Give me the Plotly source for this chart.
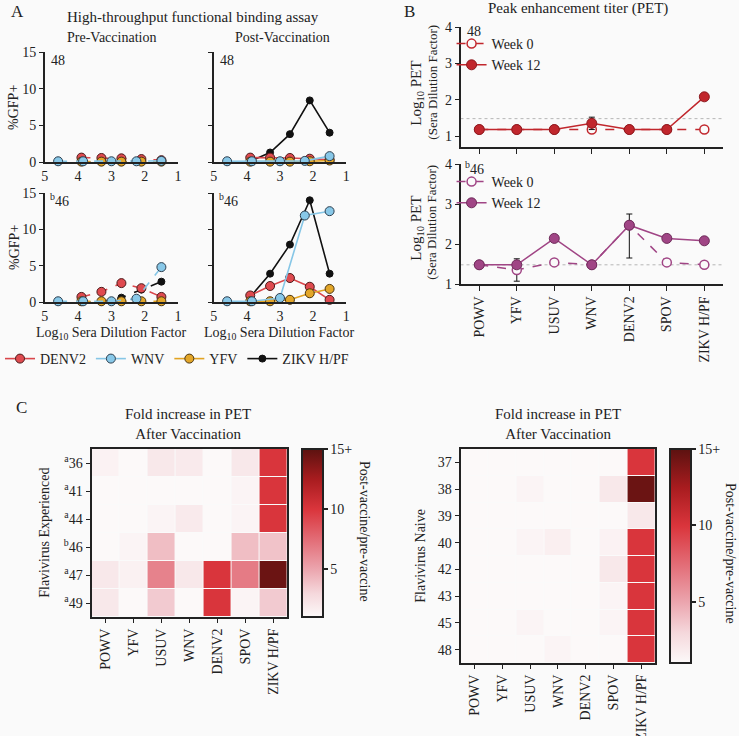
import plotly.graph_objects as go

W, H = 739, 736


def px(x):
    return x / W


def py(y):
    return 1 - y / H


FONT = "Liberation Serif, 'Times New Roman', 'DejaVu Serif', serif"
INK = "#222222"
BG = "#fafafa"

# ---- Panel A: %GFP+ vs log10 sera dilution ----
dil_std = [3.9, 3.3, 2.7, 2.1, 1.5]       # DENV2, YFV, ZIKV
dil_wnv = [4.6, 3.85, 3.0, 2.25, 1.5]     # WNV

pre48_denv2 = [0.6, 0.55, 0.5, 0.4, 0.25]
pre48_wnv = [0.1, 0.1, 0.1, 0.1, 0.15]
pre48_yfv = [0.05, 0.05, 0.05, 0.05, 0.05]
pre48_zikv = [0.0, 0.0, 0.0, 0.05, 0.05]

post48_denv2 = [0.6, 0.6, 0.55, 0.45, 0.3]
post48_wnv = [0.1, 0.1, 0.1, 0.15, 0.8]
post48_yfv = [0.05, 0.05, 0.05, 0.1, 0.2]
post48_zikv = [0.1, 1.3, 3.8, 8.4, 4.0]

pre46_denv2 = [0.7, 1.4, 2.6, 1.9, 0.7]
pre46_wnv = [0.1, 0.1, 0.1, 0.45, 4.8]
pre46_yfv = [0.1, 0.1, 0.1, 0.1, 0.1]
pre46_zikv = [0.0, 0.05, 0.6, 1.7, 2.8]

post46_denv2 = [0.9, 2.2, 3.3, 2.1, 0.3]
post46_wnv = [0.1, 0.1, 0.55, 11.9, 12.5]
post46_yfv = [0.1, 0.1, 0.3, 1.2, 1.8]
post46_zikv = [0.7, 3.9, 7.9, 14.0, 3.9]

# ---- Panel B: peak enhancement titer ----
viruses = ["POWV", "YFV", "USUV", "WNV", "DENV2", "SPOV", "ZIKV H/PF"]
lod = 1.48

pet48_wk0 = [1.18, 1.18, 1.18, 1.18, 1.18, 1.18, 1.18]
pet48_wk12 = [1.18, 1.18, 1.18, 1.35, 1.18, 1.18, 2.08]
pet48_wk12_err = [0, 0, 0, 0.17, 0, 0, 0]

pet46_wk0 = [1.48, 1.35, 1.54, 1.48, 2.47, 1.54, 1.48]
pet46_wk0_err = [0, 0.28, 0.06, 0, 0, 0.06, 0]
pet46_wk12 = [1.48, 1.48, 2.14, 1.48, 2.47, 2.14, 2.08]
pet46_wk12_up = [0, 0, 0.08, 0, 0.28, 0.08, 0]
pet46_wk12_dn = [0, 0, 0.08, 0, 0.82, 0.08, 0]

# ---- Panel C: fold increase heatmaps ----
exp_donors = ["<sup>a</sup>36", "<sup>a</sup>41", "<sup>a</sup>44",
              "<sup>b</sup>46", "<sup>a</sup>47", "<sup>a</sup>49"]
fold_exp = [
    [1.4, 1.0, 2.0, 1.9, 1.0, 2.0, 10.0],
    [1.0, 1.0, 1.0, 1.0, 1.0, 1.3, 10.0],
    [1.0, 1.0, 1.3, 1.9, 1.0, 1.3, 10.0],
    [1.0, 1.3, 4.0, 1.0, 1.0, 4.0, 3.8],
    [2.0, 1.5, 6.5, 2.0, 10.0, 6.8, 14.5],
    [2.0, 1.0, 3.5, 1.0, 10.0, 1.3, 3.5],
]
naive_donors = ["37", "38", "39", "40", "42", "43", "45", "48"]
fold_naive = [
    [1.0, 1.0, 1.0, 1.0, 1.0, 1.0, 10.0],
    [1.0, 1.0, 1.3, 1.0, 1.0, 2.0, 14.5],
    [1.0, 1.0, 1.0, 1.0, 1.0, 1.0, 2.0],
    [1.0, 1.0, 1.3, 1.6, 1.0, 1.4, 10.0],
    [1.0, 1.0, 1.0, 1.0, 1.0, 2.0, 10.0],
    [1.0, 1.0, 1.0, 1.0, 1.0, 1.3, 10.0],
    [1.0, 1.0, 1.3, 1.0, 1.0, 1.3, 10.0],
    [1.0, 1.0, 1.0, 1.3, 1.0, 1.0, 10.0],
]

virus_style = {
    "DENV2": dict(line="#d9464b", fill="#df4a4f", edge="#4a1a1a", size=9, rank=1),
    "WNV": dict(line="#86c6e6", fill="#88c8e8", edge="#2c3e4e", size=9, rank=2),
    "YFV": dict(line="#e2a322", fill="#e3a628", edge="#4a3410", size=9, rank=3),
    "ZIKV H/PF": dict(line="#111111", fill="#111111", edge="#111111", size=7, rank=4),
}

fig = go.Figure()

panels = [
    ("", "y", True, dict(DENV2=pre48_denv2, WNV=pre48_wnv, YFV=pre48_yfv, ZIKV=pre48_zikv)),
    ("2", "y2", False, dict(DENV2=post48_denv2, WNV=post48_wnv, YFV=post48_yfv, ZIKV=post48_zikv)),
    ("3", "y3", True, dict(DENV2=pre46_denv2, WNV=pre46_wnv, YFV=pre46_yfv, ZIKV=pre46_zikv)),
    ("4", "y4", False, dict(DENV2=post46_denv2, WNV=post46_wnv, YFV=post46_yfv, ZIKV=post46_zikv)),
]
for idx, (suffix, yname, pre, vals) in enumerate(panels):
    dash = "dash" if pre else "solid"
    for key, name in [("ZIKV", "ZIKV H/PF"), ("DENV2", "DENV2"), ("YFV", "YFV"), ("WNV", "WNV")]:
        st = virus_style[name]
        xs = dil_wnv if key == "WNV" else dil_std
        fig.add_trace(go.Scatter(
            x=xs, y=vals[key], mode="lines+markers", name=name,
            xaxis="x" + suffix, yaxis=yname, cliponaxis=False,
            line=dict(color=st["line"], width=1.6, dash=dash),
            marker=dict(color=st["fill"], size=st["size"], line=dict(color=st["edge"], width=1)),
            showlegend=(idx == 3), legendrank=st["rank"], legend="legend",
        ))

# Panel B traces
red, red_dark = "#c1272d", "#8c1b20"
pur, pur_dark = "#a04585", "#6e2c5a"
err_style = dict(color="#111111", thickness=1, width=3)

fig.add_trace(go.Scatter(
    x=viruses, y=pet48_wk0, mode="lines+markers", name="Week 0", xaxis="x5", yaxis="y5",
    line=dict(color=red, width=1.5, dash="dash"), cliponaxis=False,
    marker=dict(color=BG, size=9, line=dict(color=red, width=1.5)), legend="legend2"))
fig.add_trace(go.Scatter(
    x=viruses, y=pet48_wk12, mode="lines+markers", name="Week 12", xaxis="x5", yaxis="y5",
    line=dict(color=red, width=1.5), cliponaxis=False,
    error_y=dict(type="data", array=pet48_wk12_err, **err_style),
    marker=dict(color=red, size=10, line=dict(color=red_dark, width=1)), legend="legend2"))

fig.add_trace(go.Scatter(
    x=viruses, y=pet46_wk0, mode="lines+markers", name="Week 0", xaxis="x6", yaxis="y6",
    line=dict(color=pur, width=1.5, dash="dash"), cliponaxis=False,
    error_y=dict(type="data", array=pet46_wk0_err, **err_style),
    marker=dict(color=BG, size=9, line=dict(color=pur, width=1.5)), legend="legend3"))
fig.add_trace(go.Scatter(
    x=viruses, y=pet46_wk12, mode="lines+markers", name="Week 12", xaxis="x6", yaxis="y6",
    line=dict(color=pur, width=1.5), cliponaxis=False,
    error_y=dict(type="data", array=pet46_wk12_up, arrayminus=pet46_wk12_dn, **err_style),
    marker=dict(color=pur, size=10, line=dict(color=pur_dark, width=1)), legend="legend3"))

# Panel C heatmaps
cscale = [[0.0, "#fcf9f9"], [0.14, "#f5d8dc"], [0.29, "#eba3ac"], [0.45, "#e3707a"],
          [0.64, "#da353c"], [0.82, "#a81c1f"], [1.0, "#5c1210"]]


def cbar(top, bottom, x):
    return dict(x=px(x), xanchor="left", thickness=21, thicknessmode="pixels",
                len=(bottom - top) / H, lenmode="fraction", y=py(top), yanchor="top",
                xpad=0, ypad=0, outlinewidth=2, outlinecolor=INK,
                tickvals=[5, 10, 15], ticktext=["5", "10", "15+"], ticks="outside",
                ticklen=4, tickcolor=INK, tickwidth=1.5,
                tickfont=dict(family=FONT, size=14, color=INK))


fig.add_trace(go.Heatmap(
    z=fold_exp, x=list(range(len(viruses))), y=list(range(len(exp_donors))),
    xaxis="x7", yaxis="y7", zmin=1, zmax=15, colorscale=cscale, xgap=1, ygap=1,
    colorbar=cbar(449, 617, 300)))
fig.add_trace(go.Heatmap(
    z=fold_naive, x=list(range(len(viruses))), y=list(range(len(naive_donors))),
    xaxis="x8", yaxis="y8", zmin=1, zmax=15, colorscale=cscale, xgap=1, ygap=1,
    colorbar=cbar(449, 663, 670)))

tfont = dict(family=FONT, size=14, color=INK)
base_ax = dict(showgrid=False, zeroline=False, showline=True, linecolor=INK, linewidth=1.5,
               tickfont=tfont, automargin=False, fixedrange=True)


def a_x(anchor, x0, x1):
    return dict(base_ax, domain=[px(x0), px(x1)], range=[5, 1], anchor=anchor,
                tickvals=[5, 4, 3, 2, 1], ticks="")


def a_y(anchor, y0, y1, labels):
    return dict(base_ax, domain=[py(y1), py(y0)], range=[0, 15], anchor=anchor,
                tickvals=[0, 5, 10, 15], ticks="outside", ticklen=4, tickcolor=INK,
                showticklabels=labels)


layout = dict(
    width=W, height=H, template="none",
    paper_bgcolor=BG, plot_bgcolor=BG,
    margin=dict(l=0, r=0, t=0, b=0),
    font=dict(family=FONT, size=14, color=INK),
    xaxis=a_x("y", 41, 175), yaxis=a_y("x", 52, 162, True),
    xaxis2=a_x("y2", 211, 344), yaxis2=a_y("x2", 52, 162, False),
    xaxis3=a_x("y3", 41, 175), yaxis3=a_y("x3", 193, 302, True),
    xaxis4=a_x("y4", 211, 344), yaxis4=a_y("x4", 193, 302, False),
    xaxis5=dict(base_ax, domain=[px(459), px(723)], anchor="y5", type="category",
                range=[-0.5, 6.5], ticks="outside", ticklen=5, tickcolor=INK, showticklabels=False),
    yaxis5=dict(base_ax, domain=[py(147), py(27)], anchor="x5", range=[0.7, 4],
                tickvals=[1, 2, 3, 4], ticks="outside", ticklen=4, tickcolor=INK),
    xaxis6=dict(base_ax, domain=[px(459), px(723)], anchor="y6", type="category",
                range=[-0.5, 6.5], ticks="outside", ticklen=5, tickcolor=INK, tickangle=-90),
    yaxis6=dict(base_ax, domain=[py(284), py(164)], anchor="x6", range=[1, 4],
                tickvals=[1, 2, 3, 4], ticks="outside", ticklen=4, tickcolor=INK),
    xaxis7=dict(base_ax, domain=[px(88), px(285)], anchor="y7", range=[-0.5, 6.5],
                tickvals=list(range(7)), ticktext=viruses, tickangle=-90, mirror=True,
                linewidth=2, ticks="outside", ticklen=4, tickcolor=INK),
    yaxis7=dict(base_ax, domain=[py(617), py(449)], anchor="x7", range=[5.5, -0.5],
                tickvals=list(range(6)), ticktext=exp_donors, mirror=True, linewidth=2,
                ticks="outside", ticklen=4, tickcolor=INK),
    xaxis8=dict(base_ax, domain=[px(459), px(655)], anchor="y8", range=[-0.5, 6.5],
                tickvals=list(range(7)), ticktext=viruses, tickangle=-90, mirror=True,
                linewidth=2, ticks="outside", ticklen=4, tickcolor=INK),
    yaxis8=dict(base_ax, domain=[py(663), py(449)], anchor="x8", range=[7.5, -0.5],
                tickvals=list(range(8)), ticktext=naive_donors, mirror=True, linewidth=2,
                ticks="outside", ticklen=4, tickcolor=INK),
    legend=dict(orientation="h", x=-0.006, y=py(359), xanchor="left", yanchor="middle",
                bgcolor="rgba(0,0,0,0)", font=dict(family=FONT, size=14, color=INK)),
    legend2=dict(x=px(450), y=py(28), xanchor="left", yanchor="top", tracegroupgap=0,
                 bgcolor="rgba(0,0,0,0)", font=dict(family=FONT, size=14, color=INK),
                 itemwidth=30),
    legend3=dict(x=px(450), y=py(166), xanchor="left", yanchor="top", tracegroupgap=0,
                 bgcolor="rgba(0,0,0,0)", font=dict(family=FONT, size=14, color=INK),
                 itemwidth=30),
)
fig.update_layout(**layout)

for yref, xref in [("y5", "x5"), ("y6", "x6")]:
    fig.add_shape(type="line", xref=xref + " domain", yref=yref, x0=0, x1=1, y0=lod, y1=lod,
                  line=dict(color="#b5b5b5", width=1, dash="dot"), layer="below")


def note(text, x, y, size=14, xanchor="center", angle=0):
    fig.add_annotation(text=text, x=px(x), y=py(y), xref="paper", yref="paper",
                       xanchor=xanchor, yanchor="middle", showarrow=False, textangle=angle,
                       font=dict(family=FONT, size=size, color=INK))


note("A", 5, 12, 17, "left")
note("High-throughput functional binding assay", 190, 17, 15)
note("Pre-Vaccination", 108, 37, 14)
note("Post-Vaccination", 280, 37, 14)
note("48", 45, 60, 14, "left")
note("48", 215, 60, 14, "left")
note("<sup>b</sup>46", 44, 200, 14, "left")
note("<sup>b</sup>46", 214, 200, 14, "left")
note("%GFP+", 10, 107, 14, angle=-90)
note("%GFP+", 10, 247, 14, angle=-90)
note("Log<sub>10</sub> Sera Dilution Factor", 108, 333, 14)
note("Log<sub>10</sub> Sera Dilution Factor", 277, 333, 14)

note("B", 400, 12, 17, "left")
note("Peak enhancement titer (PET)", 577, 8, 15)
note("48", 464, 32, 14, "left")
note("<sup>b</sup>46", 462, 168, 14, "left")
note("Log<sub>10</sub> PET", 415, 93, 15, angle=-90)
note("(Sera Dilution Factor)", 430, 82, 13, angle=-90)
note("Log<sub>10</sub> PET", 415, 228, 15, angle=-90)
note("(Sera Dilution Factor)", 430, 222, 13, angle=-90)

note("C", 10, 407, 17, "left")
note("Fold increase in PET<br>After Vaccination", 185, 424, 15)
note("Fold increase in PET<br>After Vaccination", 557, 424, 15)
note("Flavivirus Experienced", 40, 533, 14, angle=-90)
note("Flavivirus Naive", 418, 556, 14, angle=-90)
note("Post-vaccine/pre-vaccine", 363, 531, 14, angle=90)
note("Post-vaccine/pre-vaccine", 731, 553, 14, angle=90)

fig.write_html("out.html", config={"displayModeBar": False},
               post_script="document.body.style.margin='0px';")
